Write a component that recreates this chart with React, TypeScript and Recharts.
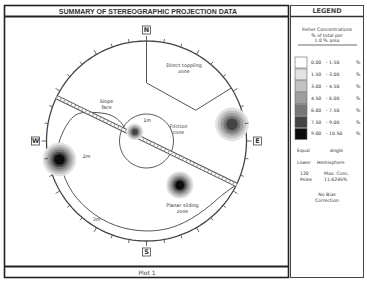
import { ComposedChart, Line, Scatter, XAxis, YAxis } from 'recharts';

// contour legend (% of total per 1% area)
const legendLower = ['0.00', '1.50', '3.00', '4.50', '6.00', '7.50', '9.00'];
const legendUpper = ['1.50', '3.00', '4.50', '6.00', '7.50', '9.00', '10.50'];

// pole concentrations
const setNames = ['1m', '2m', '3m', '4m'];
const setTrend = [308, 79, 258, 143];
const setPlunge = [78, 14, 12, 44];
const setSpread = [8, 16, 16, 13]; // degrees
const setPeak = [5, 5, 6, 6]; // highest contour level reached

// slope face (vertical plane) and friction angle
const slopeStrike = [296, 116];
const frictionAngle = 22;

// toppling zone corners (trend, plunge)
const toppleTrend = [0, 0, 58, 58];
const topplePlunge = [0, 41.5, 41.5, 0];

// daylight envelope (trend, plunge)
const envTrend = [116, 126, 140, 160, 180, 200, 220, 240, 258, 270, 287, 296, 303, 307, 302];
const envPlunge = [0, 8, 11, 11, 11, 11, 11, 11, 12, 14, 23, 35, 48, 59, 69];

const compass = ['N', 'E', 'S', 'W'];

const PX = 100;
const shades = ['#ffffff', '#e2e2e2', '#c2c2c2', '#9e9e9e', '#777777', '#444444', '#0c0c0c'];
const FONT = 'DejaVu Sans, sans-serif';

const proj = (trend: number, plunge: number) => {
  const r = Math.SQRT2 * Math.sin(((90 - plunge) / 2) * Math.PI / 180);
  const a = (trend * Math.PI) / 180;
  return { x: r * Math.sin(a), y: r * Math.cos(a) };
};

const circle = (plunge: number, step: number) => {
  const pts = [];
  for (let t = 0; t <= 360; t += step) pts.push(proj(t, plunge));
  return pts;
};

const primitive = circle(0, 2);
const frictionCircle = circle(90 - frictionAngle, 4);
const slopeLine = slopeStrike.map((t) => proj(t, 0));
const toppling = toppleTrend.map((t, i) => proj(t, topplePlunge[i]));
const envelope = envTrend.map((t, i) => proj(t, envPlunge[i]));

const ticks = [];
for (let t = 0; t < 360; t += 10) ticks.push({ ...proj(t, 0), trend: t });

const compassPts = compass.map((c, i) => {
  const a = (i * 90 * Math.PI) / 180;
  return { x: 1.11 * Math.sin(a), y: 1.11 * Math.cos(a), label: c };
});

const spots = setNames.map((n, i) => ({
  ...proj(setTrend[i], setPlunge[i]),
  name: n,
  spread: setSpread[i],
  peak: setPeak[i],
}));

const notes = [
  { x: 0.375, y: 0.74, lines: ['Direct toppling', 'zone'] },
  { x: -0.4, y: 0.38, lines: ['Slope', 'face'] },
  { x: 0.32, y: 0.13, lines: ['Friction', 'cone'] },
  { x: 0.36, y: -0.66, lines: ['Planar sliding', 'zone'] },
  { x: 0.005, y: 0.19, lines: ['1m'] },
  { x: -0.6, y: -0.17, lines: ['2m'] },
  { x: -0.5, y: -0.8, lines: ['3m'] },
];

const Spot = (props: any) => {
  const { cx, cy, payload } = props;
  const R = payload.spread * 0.0105 * PX;
  const n = payload.peak;
  const rings = [];
  for (let k = 1; k <= n; k++) {
    const r = R * (1 - ((k - 1) / n) * 0.82);
    rings.push(<circle key={k} cx={cx} cy={cy} r={r} fill={shades[k]} stroke="none" />);
  }
  return <g>{rings}</g>;
};

const Tick = (props: any) => {
  const { cx, cy, payload } = props;
  const a = (payload.trend * Math.PI) / 180;
  const len = payload.trend % 30 === 0 ? 5 : 3.5;
  return <line x1={cx} y1={cy} x2={cx + Math.sin(a) * len} y2={cy - Math.cos(a) * len} stroke="#555" strokeWidth={0.9} />;
};

const CompassLabel = (props: any) => {
  const { cx, cy, payload } = props;
  return (
    <g>
      <rect x={cx - 4} y={cy - 4} width={8} height={8} fill="#fff" stroke="#444" strokeWidth={0.8} />
      <text x={cx} y={cy + 2.3} textAnchor="middle" fontSize={6.5} fontWeight="bold" fontFamily={FONT} fill="#333">
        {payload.label}
      </text>
    </g>
  );
};

const Note = (props: any) => {
  const { cx, cy, payload } = props;
  return (
    <text x={cx} y={cy} textAnchor="middle" fontSize={4.8} fontFamily={FONT} fill="#333">
      {payload.lines.map((l: string, i: number) => (
        <tspan key={i} x={cx} dy={i === 0 ? 0 : 5.5}>
          {l}
        </tspan>
      ))}
    </text>
  );
};

const Frame = () => (
  <svg width={367} height={281} style={{ position: 'absolute', left: 0, top: 0 }}>
    <rect x={4.5} y={5.5} width={284} height={272} fill="#fff" stroke="#222" strokeWidth={1.6} />
    <line x1={4.5} y1={16.5} x2={288.5} y2={16.5} stroke="#222" strokeWidth={2} />
    <line x1={4.5} y1={266.5} x2={288.5} y2={266.5} stroke="#222" strokeWidth={2} />
    <text x={148} y={13.6} textAnchor="middle" fontSize={7} fontWeight="bold" fontFamily="Liberation Sans, sans-serif" fill="#333">
      SUMMARY OF STEREOGRAPHIC PROJECTION DATA
    </text>
    <text x={147} y={275} textAnchor="middle" fontSize={6} fontFamily={FONT} fill="#444">
      Plot 1
    </text>

    <rect x={290.5} y={5.5} width={73} height={272} fill="#fff" stroke="#444" strokeWidth={1} />
    <line x1={290.5} y1={16.5} x2={363.5} y2={16.5} stroke="#333" strokeWidth={1.5} />
    <text x={327} y={13.4} textAnchor="middle" fontSize={6.5} fontWeight="bold" fontFamily={FONT} fill="#444">
      LEGEND
    </text>
    <g fontFamily={FONT} fill="#333" fontSize={4.6} textAnchor="middle">
      <text x={327} y={31}>Fisher Concentrations</text>
      <text x={327} y={36.5}>% of total per</text>
      <text x={327} y={42}>1.0 % area</text>
    </g>
    <line x1={298} y1={45} x2={357} y2={45} stroke="#444" strokeWidth={0.8} />
    {legendLower.map((lo, i) => {
      const y0 = 57 + i * 11.9;
      return (
        <g key={i} fontFamily={FONT} fontSize={4.6} fill="#333">
          <rect x={295} y={y0} width={12} height={11} fill={shades[i]} stroke="#666" strokeWidth={0.6} />
          <text x={311} y={y0 + 7}>{lo}</text>
          <text x={326} y={y0 + 7}>{`- ${legendUpper[i]}`}</text>
          <text x={356} y={y0 + 7}>%</text>
        </g>
      );
    })}
    <g fontFamily={FONT} fontSize={4.6} fill="#333">
      <text x={297} y={152}>Equal</text>
      <text x={330} y={152}>Angle</text>
      <text x={297} y={164}>Lower</text>
      <text x={317} y={164}>Hemisphere</text>
      <text x={300} y={175}>120</text>
      <text x={300} y={180.5}>Poles</text>
      <text x={324} y={175}>Max. Conc.</text>
      <text x={324} y={180.5}>11.6245%</text>
      <text x={327} y={196} textAnchor="middle">No Bias</text>
      <text x={327} y={201.5} textAnchor="middle">Correction</text>
    </g>
  </svg>
);

export default function App() {
  return (
    <div style={{ position: 'absolute', left: 0, top: 0, width: 367, height: 281, background: '#fff' }}>
      <Frame />
      <div style={{ position: 'absolute', left: 0, top: 0 }}>
        <ComposedChart width={290} height={281} margin={{ top: 16, bottom: 15, left: 6.5, right: 3.5 }}>
          <XAxis type="number" dataKey="x" domain={[-1.4, 1.4]} hide allowDataOverflow />
          <YAxis type="number" dataKey="y" domain={[-1.25, 1.25]} hide allowDataOverflow />
          <Scatter data={spots} shape={Spot} isAnimationActive={false} />
          <Line data={primitive} dataKey="y" type="linear" dot={false} activeDot={false} stroke="#444" strokeWidth={1.3} isAnimationActive={false} />
          <Line data={frictionCircle} dataKey="y" type="linear" dot={false} activeDot={false} stroke="#555" strokeWidth={1} isAnimationActive={false} />
          <Line data={envelope} dataKey="y" type="natural" dot={false} activeDot={false} stroke="#555" strokeWidth={1} isAnimationActive={false} />
          <Line data={toppling} dataKey="y" type="linear" dot={false} activeDot={false} stroke="#555" strokeWidth={1} isAnimationActive={false} />
          <Line data={slopeLine} dataKey="y" type="linear" dot={false} activeDot={false} stroke="#555" strokeWidth={4.5} isAnimationActive={false} />
          <Line data={slopeLine} dataKey="y" type="linear" dot={false} activeDot={false} stroke="#fff" strokeWidth={2.4} isAnimationActive={false} />
          <Line data={slopeLine} dataKey="y" type="linear" dot={false} activeDot={false} stroke="#999" strokeWidth={2.4} strokeDasharray="1 3" isAnimationActive={false} />
          <Scatter data={ticks} shape={Tick} isAnimationActive={false} />
          <Scatter data={compassPts} shape={CompassLabel} isAnimationActive={false} />
          <Scatter data={notes} shape={Note} isAnimationActive={false} />
        </ComposedChart>
      </div>
    </div>
  );
}
